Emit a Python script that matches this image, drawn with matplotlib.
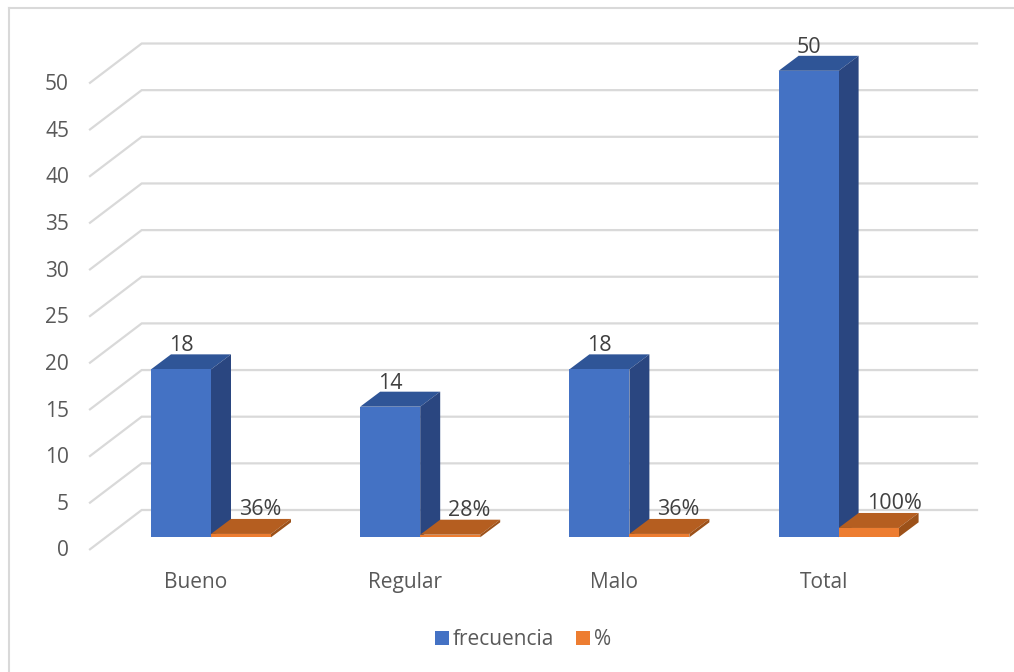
import matplotlib
matplotlib.use('Agg')
import matplotlib.pyplot as plt
from matplotlib.patches import Polygon, Patch, Rectangle

categories = ['Bueno', 'Regular', 'Malo', 'Total']
frecuencia = [18, 14, 18, 50]
porcentaje = [0.36, 0.28, 0.36, 1.0]
porcentaje_labels = ['36%', '28%', '36%', '100%']
y_ticks = [0, 5, 10, 15, 20, 25, 30, 35, 40, 45, 50]

plt.rcParams['font.family'] = ['Open Sans', 'DejaVu Sans']

# pixel scale of the chart
W, H = 1014, 672
PX_X = 209.2   # px between categories
PX_Y = 9.33    # px per unit
X0 = 211       # px of first category centre
Y0 = 537.3     # px of the value 0 at the bars

BAR_W = 60 / PX_X
DX = 20 / PX_X
DY = 15 / PX_Y

BLUE = ('#4472C4', '#2F5597', '#2A4680')
ORANGE = ('#ED7D31', '#B55E20', '#9C5119')
GRID = '#D9D9D9'


def draw_bar(ax, left, value, colors):
    front, top, side = colors
    r = left + BAR_W
    ax.add_patch(Polygon([(left, value), (left + DX, value + DY), (r + DX, value + DY), (r, value)],
                         closed=True, fc=top, ec='none', zorder=3))
    ax.add_patch(Polygon([(r, 0), (r + DX, DY), (r + DX, value + DY), (r, value)],
                         closed=True, fc=side, ec='none', zorder=3))
    ax.add_patch(Rectangle((left, 0), BAR_W, value, fc=front, ec='none', zorder=4))


fig = plt.figure(figsize=(W / 100, H / 100), dpi=100)
ax = fig.add_axes([0, 0, 1, 1])
ax.set_xlim(-X0 / PX_X, (W - X0) / PX_X)
ax.set_ylim(-(H - Y0) / PX_Y, Y0 / PX_Y)
ax.axis('off')

# marco de la imagen, solo arriba e izquierda
ax.plot([(8.5 - X0) / PX_X, (8.5 - X0) / PX_X], [-(H - Y0) / PX_Y, (Y0 - 7.5) / PX_Y], color=GRID, lw=1.5, zorder=1)
ax.plot([(8.5 - X0) / PX_X, (W - X0) / PX_X], [(Y0 - 7.5) / PX_Y, (Y0 - 7.5) / PX_Y], color=GRID, lw=1.5, zorder=1)

# rejilla con perspectiva
gx_front = (90 - X0) / PX_X
gx_back = (141.7 - X0) / PX_X
gx_end = (977 - X0) / PX_X
gy_front = (Y0 - 549.3) / PX_Y
gy_back = (Y0 - 510) / PX_Y
for v in y_ticks:
    ax.plot([gx_front, gx_back, gx_end], [v + gy_front, v + gy_back, v + gy_back],
            color=GRID, lw=1.6, solid_joinstyle='miter', zorder=1)
    ax.text((69 - X0) / PX_X, v + (Y0 - 548.5) / PX_Y, str(v), ha='right', va='center_baseline',
            fontsize=15, color='#595959')

for i, cat in enumerate(categories):
    draw_bar(ax, i - BAR_W, frecuencia[i], BLUE)
    draw_bar(ax, i, porcentaje[i], ORANGE)
    ax.text(i - 15 / PX_X, (Y0 - 580) / PX_Y, cat, ha='center', va='center_baseline',
            fontsize=15, color='#595959')
    ax.text(i - 30 / PX_X, frecuencia[i] + 2.8, str(frecuencia[i]), ha='center',
            va='center_baseline', fontsize=15.5, color='#404040', zorder=5)
    ax.text(i + (56 if i == 3 else 49) / PX_X, porcentaje[i] + 2.85, porcentaje_labels[i],
            ha='center', va='center_baseline', fontsize=15.5, color='#404040', zorder=5)

handles = [Patch(fc=BLUE[0], label='frecuencia'), Patch(fc=ORANGE[0], label='%')]
fig.legend(handles=handles, loc='center', bbox_to_anchor=(523 / W, 1 - 639.5 / H), ncol=2, frameon=False,
           fontsize=15, labelcolor='#595959', handlelength=0.67, handleheight=0.67,
           handletextpad=0.2, columnspacing=1.05)

fig.savefig('out.png', dpi=100)
